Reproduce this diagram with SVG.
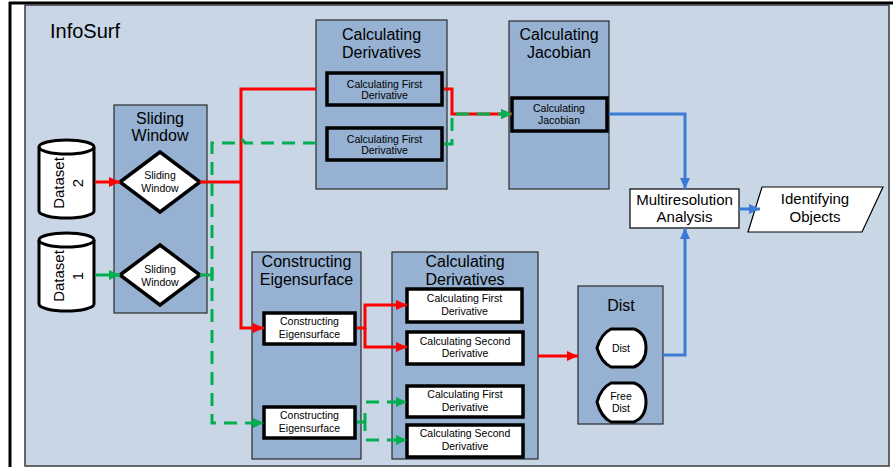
<svg xmlns="http://www.w3.org/2000/svg" width="893" height="467" viewBox="0 0 893 467">
<defs>
<style>
text{font-family:"Liberation Sans",Arial,sans-serif;fill:#000;text-anchor:middle}
.t16{font-size:16px}
.t15{font-size:15px}
.t10{font-size:10.5px}
.cont{fill:#96b1d2;stroke:#2a2a2a;stroke-width:1.2}
.ib{fill:#fff;stroke:#000;stroke-width:3.5}
.ibb{fill:#96b1d2;stroke:#000;stroke-width:3.5}
.red{stroke:#ff0000;stroke-width:3;fill:none}
.grn{stroke:#00b050;stroke-width:3;fill:none}
.dash{stroke-dasharray:13 8}
.blu{stroke:#3b7bd6;stroke-width:3;fill:none}
</style>
<marker id="ar" markerUnits="userSpaceOnUse" markerWidth="11" markerHeight="10" refX="11" refY="5" orient="auto"><path d="M0,0 L11,5 L0,10 Z" fill="#ff0000"/></marker>
<marker id="ag" markerUnits="userSpaceOnUse" markerWidth="11" markerHeight="10" refX="11" refY="5" orient="auto"><path d="M0,0 L11,5 L0,10 Z" fill="#00b050"/></marker>
<marker id="ab" markerUnits="userSpaceOnUse" markerWidth="11" markerHeight="10" refX="11" refY="5" orient="auto"><path d="M0,0 L11,5 L0,10 Z" fill="#3b7bd6"/></marker>
</defs>
<rect x="0" y="0" width="893" height="467" fill="#fff"/>
<g id="frame">
<line x1="9" y1="3" x2="893" y2="3" stroke="#000" stroke-width="3"/>
<line x1="10" y1="2" x2="10" y2="467" stroke="#000" stroke-width="3"/>
<rect x="25" y="5" width="864" height="461" fill="#c9d6e5" stroke="#3a3a3a" stroke-width="1.5"/>
<text x="50" y="38" style="font-size:20px;text-anchor:start">InfoSurf</text>
</g>

<g id="sliding-window">
<rect class="cont" x="114" y="105" width="93" height="208"/>
<text class="t16" x="160" y="123.5">Sliding</text>
<text class="t16" x="160" y="141">Window</text>
</g>
<g id="sliding-window-2">
<polygon points="120,182 160,152 200,182 160,212" fill="#fff" stroke="#000" stroke-width="3.5" stroke-linejoin="miter"/>
<text class="t10" x="160" y="179">Sliding</text>
<text class="t10" x="160" y="192">Window</text>
</g>
<g id="sliding-window-1">
<polygon points="120,275 160,245 200,275 160,305" fill="#fff" stroke="#000" stroke-width="3.5"/>
<text class="t10" x="160" y="273">Sliding</text>
<text class="t10" x="160" y="286">Window</text>
</g>

<g id="dataset-2">
<path d="M39,147 A27.5,7 0 0 1 94,147 L94,211 A27.5,7 0 0 1 39,211 Z" fill="#fff" stroke="#000" stroke-width="3"/>
<path d="M39,147 A27.5,7 0 0 0 94,147" fill="none" stroke="#000" stroke-width="3"/>
<text class="t15" transform="rotate(-90 66 183)" x="66" y="181">Dataset</text>
<text class="t15" transform="rotate(-90 66 183)" x="66" y="200">2</text>
</g>
<g id="dataset-1">
<path d="M39,240 A27.5,7 0 0 1 94,240 L94,304 A27.5,7 0 0 1 39,304 Z" fill="#fff" stroke="#000" stroke-width="3"/>
<path d="M39,240 A27.5,7 0 0 0 94,240" fill="none" stroke="#000" stroke-width="3"/>
<text class="t15" transform="rotate(-90 66 276)" x="66" y="274">Dataset</text>
<text class="t15" transform="rotate(-90 66 276)" x="66" y="293">1</text>
</g>

<g id="calculating-derivatives-top">
<rect class="cont" x="316" y="20" width="131" height="169"/>
<text class="t16" x="381.5" y="39.5">Calculating</text>
<text class="t16" x="381.5" y="57.5">Derivatives</text>
</g>
<g id="calc-first-derivative-a">
<rect class="ibb" x="327" y="73" width="115" height="32"/>
<text class="t10" x="384.5" y="87.5">Calculating First</text>
<text class="t10" x="384.5" y="98.5">Derivative</text>
</g>
<g id="calc-first-derivative-b">
<rect class="ibb" x="327" y="128" width="115" height="32"/>
<text class="t10" x="384.5" y="142.5">Calculating First</text>
<text class="t10" x="384.5" y="153.5">Derivative</text>
</g>

<g id="calculating-jacobian">
<rect class="cont" x="509" y="21" width="100" height="168"/>
<text class="t16" x="559" y="39.5">Calculating</text>
<text class="t16" x="559" y="57.5">Jacobian</text>
</g>
<g id="calc-jacobian-inner">
<rect class="ibb" x="512" y="98" width="95" height="33"/>
<text class="t10" x="559" y="112">Calculating</text>
<text class="t10" x="559" y="123.5">Jacobian</text>
</g>

<g id="multiresolution-analysis">
<rect x="630" y="189" width="109" height="39" fill="#fff" stroke="#000" stroke-width="1.2"/>
<text class="t15" x="684.5" y="205">Multiresolution</text>
<text class="t15" x="684.5" y="222">Analysis</text>
</g>
<g id="identifying-objects">
<polygon points="762,187 883,187 862,232 748,232" fill="#fff" stroke="#000" stroke-width="1.2"/>
<text class="t15" x="815" y="204">Identifying</text>
<text class="t15" x="815" y="222">Objects</text>
</g>

<g id="constructing-eigensurface">
<rect class="cont" x="252" y="252" width="109" height="207"/>
<text class="t16" x="306.5" y="266.5">Constructing</text>
<text class="t16" x="306.5" y="284.5">Eigensurface</text>
</g>
<g id="constructing-eigensurface-a">
<rect class="ib" x="264" y="313" width="91" height="31"/>
<text class="t10" x="309.5" y="325">Constructing</text>
<text class="t10" x="309.5" y="338">Eigensurface</text>
</g>
<g id="constructing-eigensurface-b">
<rect class="ib" x="264" y="407" width="91" height="31"/>
<text class="t10" x="309.5" y="419">Constructing</text>
<text class="t10" x="309.5" y="431.5">Eigensurface</text>
</g>

<g id="calculating-derivatives-bottom">
<rect class="cont" x="392" y="252" width="146" height="207"/>
<text class="t16" x="465" y="266.5">Calculating</text>
<text class="t16" x="465" y="284.5">Derivatives</text>
</g>
<g id="calc-first-derivative-c">
<rect class="ib" x="407" y="289" width="115" height="33"/>
<text class="t10" x="464.5" y="302">Calculating First</text>
<text class="t10" x="464.5" y="315">Derivative</text>
</g>
<g id="calc-second-derivative-c">
<rect class="ib" x="407" y="332" width="116" height="32"/>
<text class="t10" x="465" y="345">Calculating Second</text>
<text class="t10" x="465" y="357">Derivative</text>
</g>
<g id="calc-first-derivative-d">
<rect class="ib" x="407" y="386" width="116" height="31"/>
<text class="t10" x="465" y="398">Calculating First</text>
<text class="t10" x="465" y="411">Derivative</text>
</g>
<g id="calc-second-derivative-d">
<rect class="ib" x="407" y="425" width="116" height="32"/>
<text class="t10" x="465" y="437">Calculating Second</text>
<text class="t10" x="465" y="450">Derivative</text>
</g>

<g id="dist">
<rect class="cont" x="578" y="286" width="85" height="138"/>
<text class="t16" x="621" y="311">Dist</text>
</g>
<g id="dist-inner">
<path d="M597,348 Q601,334 611,329 L634,329 Q646,333 646,348 Q646,362 634,367 L611,367 Q601,362 597,348 Z" fill="#fff" stroke="#000" stroke-width="3"/>
<text class="t10" x="621" y="351.5">Dist</text>
</g>
<g id="free-dist">
<path d="M597,402 Q601,388 611,383 L634,383 Q646,387 646,402 Q646,417 634,422 L611,422 Q601,417 597,402 Z" fill="#fff" stroke="#000" stroke-width="3"/>
<text class="t10" x="621" y="400">Free</text>
<text class="t10" x="621" y="411.5">Dist</text>
</g>

<g id="connectors">
<path class="red" d="M95,182 H120" marker-end="url(#ar)"/>
<path class="grn" d="M95,275 H120" marker-end="url(#ag)"/>
<path class="red" d="M200,182 H241"/>
<path class="red" d="M316,89 H241 V328 H264" marker-end="url(#ar)"/>
<path class="grn" d="M200,275 H212 M212,269 V281"/>
<path class="grn dash" d="M316,143 H245 Q241,136 237,143 H212 V423 H264" marker-end="url(#ag)"/>
<path class="red" d="M444,89 H452 V114 H512" marker-end="url(#ar)"/>
<path class="grn dash" d="M444,144 H452 V114 H512" marker-end="url(#ag)"/>
<path class="blu" d="M609,114 H685 V189" marker-end="url(#ab)"/>
<path class="blu" d="M663,355 H685 V228" marker-end="url(#ab)"/>
<path class="blu" d="M739,209 H760" marker-end="url(#ab)"/>
<path class="red" d="M357,328 H365 V305 H407" marker-end="url(#ar)"/>
<path class="red" d="M365,328 V347 H407" marker-end="url(#ar)"/>
<path class="grn" d="M357,422 H365 M365,413 V431"/>
<path class="grn dash" d="M366,402 H407" marker-end="url(#ag)"/>
<path class="grn dash" d="M366,440 H407" marker-end="url(#ag)"/>
<path class="red" d="M538,356 H578" marker-end="url(#ar)"/>
</g>
</svg>
